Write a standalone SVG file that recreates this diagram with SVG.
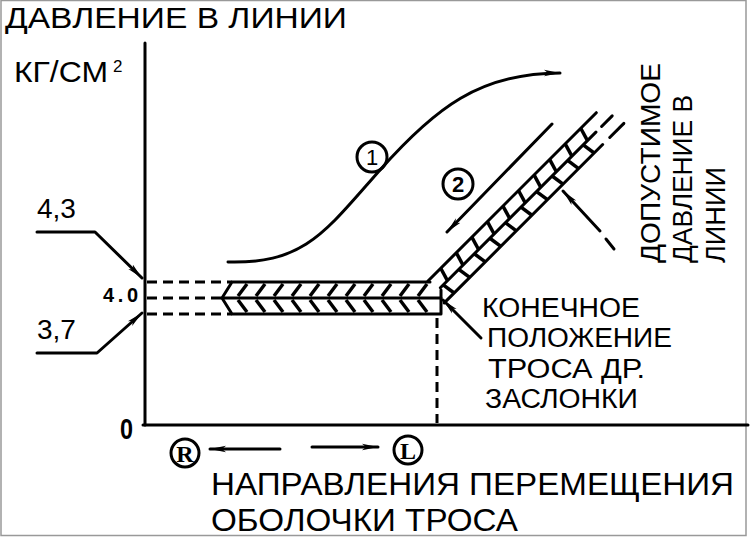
<svg xmlns="http://www.w3.org/2000/svg" width="750" height="538" viewBox="0 0 750 538">
<style>
.t{font-family:"Liberation Sans",Arial,sans-serif;fill:#000}
.ts{font-family:"Liberation Serif","Times New Roman",serif;fill:#000}
.ln{stroke:#000;stroke-width:3;fill:none;stroke-linecap:round;stroke-linejoin:round}
.dash{stroke-dasharray:10 6;stroke-linecap:butt}
.h{stroke:#000;stroke-width:3.5;stroke-linecap:butt}
</style>
<defs>
<marker id="ah" markerUnits="userSpaceOnUse" markerWidth="18" markerHeight="10" refX="16" refY="5" orient="auto">
<path d="M0,1.8 L16,5 L0,8.2 L4,5 z" fill="#000"/>
</marker>
</defs>
<rect x="0" y="0" width="750" height="538" fill="#fff"/>
<rect x="1" y="0.5" width="745" height="535" fill="none" stroke="#999" stroke-width="1.5"/>

<g id="title">
<text class="t" x="5" y="28" font-size="29" textLength="342" lengthAdjust="spacingAndGlyphs">ДАВЛЕНИЕ В ЛИНИИ</text>
</g>
<g id="unit">
<text class="t" x="14" y="82" font-size="29" textLength="94" lengthAdjust="spacingAndGlyphs">КГ/СМ</text>
<text class="t" x="113" y="72" font-size="17">2</text>
</g>

<g id="axes">
<line class="ln" x1="145" y1="43" x2="145" y2="425"/>
<line class="ln" x1="143" y1="425" x2="748" y2="425"/>
<text class="t" x="120" y="439" font-size="30" font-weight="bold" textLength="13" lengthAdjust="spacingAndGlyphs">0</text>
</g>

<g id="values">
<text class="t" x="37" y="218" font-size="28">4,3</text>
<text class="t" x="37" y="339" font-size="28">3,7</text>
<text class="t" x="103" y="302" font-size="20" font-weight="bold" textLength="35">4.0</text>
</g>

<g id="connectors">
<polyline class="ln" points="37,232 95,232 142,278" marker-end="url(#ah)"/>
<polyline class="ln" points="37,353 97,353 142,313" marker-end="url(#ah)"/>
<line class="ln dash" x1="147" y1="282" x2="232" y2="282"/>
<line class="ln dash" x1="147" y1="298" x2="222" y2="298"/>
<line class="ln dash" x1="147" y1="314" x2="232" y2="314"/>
<line class="ln dash" x1="437" y1="318" x2="437" y2="423"/>
<path class="ln" d="M228,262 C305,264 325,232 380,170 S480,73 560,73" marker-end="url(#ah)"/>
<line class="ln" x1="552" y1="124" x2="447" y2="232" marker-end="url(#ah)"/>
<line class="ln" x1="600" y1="231" x2="563" y2="191" marker-end="url(#ah)"/>
<line class="ln" x1="606" y1="239" x2="614" y2="249"/>
<line class="ln" x1="481" y1="338" x2="443" y2="300" marker-end="url(#ah)"/>
<line class="ln" x1="280" y1="449" x2="210" y2="449" marker-end="url(#ah)"/>
<line class="ln" x1="312" y1="447" x2="378" y2="447" marker-end="url(#ah)"/>
</g>

<g id="band-horizontal">
<polyline class="ln" points="430,282 232,282 222,298 232,314 441,314 441,290"/>
<line class="ln" x1="222" y1="298" x2="441" y2="298"/>
<g class="h">
<line x1="238" y1="296" x2="247" y2="284"/><line x1="238" y1="300" x2="247" y2="312"/>
<line x1="256" y1="296" x2="265" y2="284"/><line x1="256" y1="300" x2="265" y2="312"/>
<line x1="274" y1="296" x2="283" y2="284"/><line x1="274" y1="300" x2="283" y2="312"/>
<line x1="292" y1="296" x2="301" y2="284"/><line x1="292" y1="300" x2="301" y2="312"/>
<line x1="310" y1="296" x2="319" y2="284"/><line x1="310" y1="300" x2="319" y2="312"/>
<line x1="328" y1="296" x2="337" y2="284"/><line x1="328" y1="300" x2="337" y2="312"/>
<line x1="346" y1="296" x2="355" y2="284"/><line x1="346" y1="300" x2="355" y2="312"/>
<line x1="364" y1="296" x2="373" y2="284"/><line x1="364" y1="300" x2="373" y2="312"/>
<line x1="382" y1="296" x2="391" y2="284"/><line x1="382" y1="300" x2="391" y2="312"/>
<line x1="400" y1="296" x2="409" y2="284"/><line x1="400" y1="300" x2="409" y2="312"/>
<line x1="418" y1="296" x2="427" y2="284"/><line x1="418" y1="300" x2="427" y2="312"/>
</g>
</g>

<g id="band-diagonal" transform="translate(428,281) rotate(-45)">
<line class="ln" x1="0" y1="0" x2="238" y2="0"/>
<line class="ln" x1="4" y1="13.5" x2="224" y2="13.5"/>
<line class="ln" x1="232" y1="13.5" x2="247" y2="13.5"/>
<line class="ln" x1="-4" y1="27" x2="220" y2="27"/>
<line class="ln" x1="230" y1="27" x2="250" y2="27"/>
<g class="h">
<line x1="14" y1="13.5" x2="18" y2="0"/><line x1="8" y1="13.5" x2="10" y2="27"/>
<line x1="36" y1="13.5" x2="40" y2="0"/><line x1="30" y1="13.5" x2="32" y2="27"/>
<line x1="58" y1="13.5" x2="62" y2="0"/><line x1="52" y1="13.5" x2="54" y2="27"/>
<line x1="80" y1="13.5" x2="84" y2="0"/><line x1="74" y1="13.5" x2="76" y2="27"/>
<line x1="102" y1="13.5" x2="106" y2="0"/><line x1="96" y1="13.5" x2="98" y2="27"/>
<line x1="124" y1="13.5" x2="128" y2="0"/><line x1="118" y1="13.5" x2="120" y2="27"/>
<line x1="146" y1="13.5" x2="150" y2="0"/><line x1="140" y1="13.5" x2="142" y2="27"/>
<line x1="168" y1="13.5" x2="172" y2="0"/><line x1="162" y1="13.5" x2="164" y2="27"/>
<line x1="190" y1="13.5" x2="194" y2="0"/><line x1="184" y1="13.5" x2="186" y2="27"/>
<line x1="212" y1="13.5" x2="216" y2="0"/><line x1="206" y1="13.5" x2="208" y2="27"/>
</g>
</g>

<g id="mark1">
<circle class="ln" cx="372" cy="157" r="15"/>
<text class="t" x="372" y="165" font-size="22" text-anchor="middle">1</text>
</g>
<g id="mark2">
<circle class="ln" cx="458" cy="184" r="15"/>
<text class="t" x="458" y="192" font-size="22" font-weight="bold" text-anchor="middle">2</text>
</g>
<g id="markR">
<circle class="ln" cx="185" cy="453" r="14"/>
<text class="ts" x="185" y="461.5" font-size="24" font-weight="bold" text-anchor="middle">R</text>
</g>
<g id="markL">
<circle class="ln" cx="408" cy="450" r="14"/>
<text class="ts" x="408" y="458.5" font-size="24" font-weight="bold" text-anchor="middle">L</text>
</g>

<g id="label-allowed">
<text class="t" font-size="28" transform="translate(660,263) rotate(-90)" textLength="200" lengthAdjust="spacingAndGlyphs">ДОПУСТИМОЕ</text>
<text class="t" font-size="28" transform="translate(692,263) rotate(-90)" textLength="168" lengthAdjust="spacingAndGlyphs">ДАВЛЕНИЕ В</text>
<text class="t" font-size="28" transform="translate(725,263) rotate(-90)" textLength="96" lengthAdjust="spacingAndGlyphs">ЛИНИИ</text>
</g>

<g id="label-end">
<text class="t" x="482" y="317" font-size="27" textLength="158" lengthAdjust="spacingAndGlyphs">КОНЕЧНОЕ</text>
<text class="t" x="487" y="347" font-size="27" textLength="185" lengthAdjust="spacingAndGlyphs">ПОЛОЖЕНИЕ</text>
<text class="t" x="488" y="378" font-size="27" textLength="157" lengthAdjust="spacingAndGlyphs">ТРОСА ДР.</text>
<text class="t" x="485" y="408" font-size="27" textLength="153" lengthAdjust="spacingAndGlyphs">ЗАСЛОНКИ</text>
</g>

<g id="label-direction">
<text class="t" x="211" y="495" font-size="32" textLength="523" lengthAdjust="spacingAndGlyphs">НАПРАВЛЕНИЯ ПЕРЕМЕЩЕНИЯ</text>
<text class="t" x="211" y="531" font-size="32" textLength="307" lengthAdjust="spacingAndGlyphs">ОБОЛОЧКИ ТРОСА</text>
</g>
</svg>
